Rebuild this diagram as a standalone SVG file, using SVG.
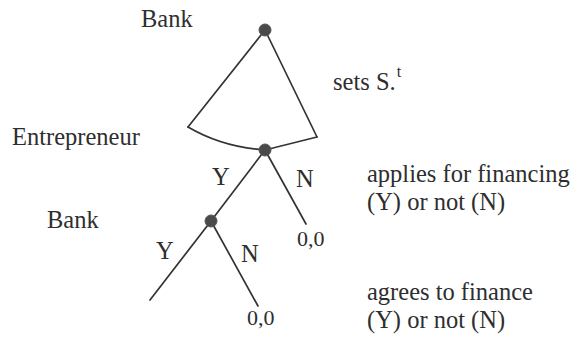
<svg xmlns="http://www.w3.org/2000/svg" width="574" height="337" viewBox="0 0 574 337">
<style>
.t{font-family:"Liberation Serif","Times New Roman",serif;font-size:24.5px;fill:#2e2e2e}
.s{font-size:22px}
.e{stroke:#333;stroke-width:1.7;fill:none;stroke-linecap:round}
.n{fill:#4a4a4a;stroke:#555;stroke-width:1}
</style>
<rect width="574" height="337" fill="#fff"/>
<g id="connectors">
<line class="e" x1="265" y1="30" x2="188" y2="127"/>
<line class="e" x1="265" y1="30" x2="317" y2="137"/>
<path class="e" d="M188,127 Q222,147 265,150 L317,137"/>
<line class="e" x1="265" y1="150" x2="211" y2="221"/>
<line class="e" x1="265" y1="150" x2="306" y2="224"/>
<line class="e" x1="211" y1="221" x2="150" y2="300"/>
<line class="e" x1="211" y1="221" x2="258" y2="306"/>
</g>
<g id="bank-root">
<circle class="n" cx="265" cy="30" r="6"/>
<text class="t" x="141" y="27">Bank</text>
</g>
<g id="entrepreneur">
<circle class="n" cx="265" cy="150" r="6"/>
<text class="t" x="12" y="145">Entrepreneur</text>
</g>
<g id="bank-2">
<circle class="n" cx="211" cy="221" r="6"/>
<text class="t" x="47" y="228">Bank</text>
</g>
<g id="labels">
<text class="t" x="333" y="90">sets S.<tspan dx="1" dy="-13" style="font-size:16px">t</tspan></text>
<text class="t" x="212" y="185">Y</text>
<text class="t" x="296" y="187">N</text>
<text class="t s" x="297" y="246">0,0</text>
<text class="t" x="156" y="259">Y</text>
<text class="t" x="241" y="262">N</text>
<text class="t s" x="247" y="325">0,0</text>
<text class="t" x="367" y="182">applies for financing</text>
<text class="t" x="367" y="210">(Y) or not (N)</text>
<text class="t" x="367" y="300">agrees to finance</text>
<text class="t" x="367" y="328">(Y) or not (N)</text>
</g>
</svg>
